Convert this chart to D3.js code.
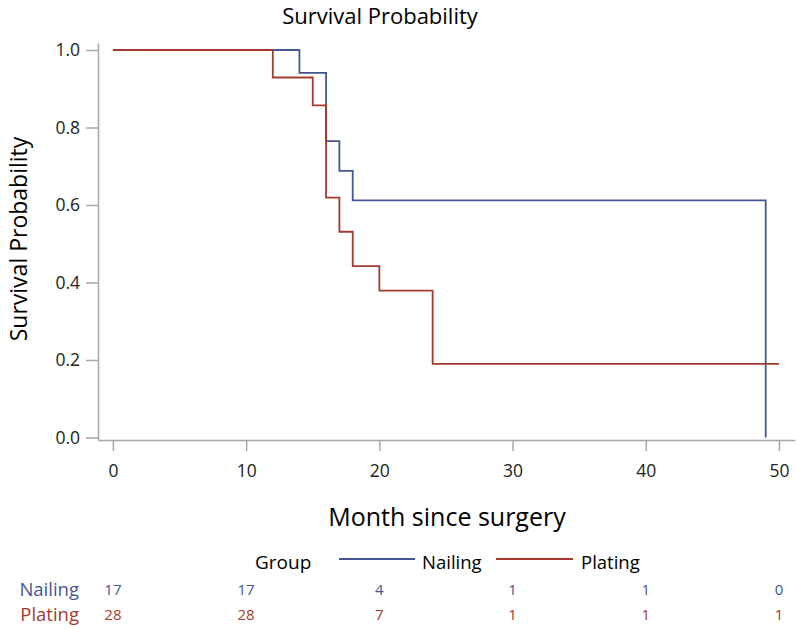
<!DOCTYPE html>
<html><head><meta charset="utf-8">
<script src="https://cdn.jsdelivr.net/npm/d3@7"></script>
<style>body{margin:0;background:#fff}svg{display:block;font-family:"Open Sans",sans-serif}</style>
</head><body><svg id="c" width="796" height="629"></svg>
<script>
const groups = ["Nailing", "Plating"];
const colors = ["#445694", "#A23A2E"];
const nailingTime = [0, 14, 16, 17, 18, 49];
const nailingSurv = [1.0, 0.941, 0.765, 0.688, 0.612, 0.0];
const nailingEnd = 49;
const platingTime = [0, 12, 15, 16, 17, 18, 20, 24];
const platingSurv = [1.0, 0.929, 0.857, 0.619, 0.531, 0.442, 0.379, 0.190];
const platingEnd = 50;
const xTicks = [0, 10, 20, 30, 40, 50];
const yTicks = [0.0, 0.2, 0.4, 0.6, 0.8, 1.0];
const riskTimes = [0, 10, 20, 30, 40, 50];
const nailingRisk = [17, 17, 4, 1, 1, 0];
const platingRisk = [28, 28, 7, 1, 1, 1];

const svg = d3.select("#c");
const axisColor = "#a3a9ad";
const x = d3.scaleLinear().domain([-1.12, 51.2]).range([98, 795]);
const y = d3.scaleLinear().domain([-0.0065, 1.0181]).range([440, 43]);

// axes
const xAxis = svg.append("g").attr("transform", "translate(0,440)")
  .call(d3.axisBottom(x).tickValues(xTicks).tickFormat(d3.format("d")).tickSizeInner(11).tickSizeOuter(0).tickPadding(14));
const yAxis = svg.append("g").attr("transform", "translate(98,0)")
  .call(d3.axisLeft(y).tickValues(yTicks).tickFormat(d3.format(".1f")).tickSizeInner(12).tickSizeOuter(0).tickPadding(6));
[xAxis, yAxis].forEach(a => {
  a.selectAll("path, line").attr("stroke", axisColor).attr("stroke-width", 1.5);
  a.selectAll("text").attr("fill", "#222").style("font-size", "17.5px").style("font-family", "'Open Sans',sans-serif");
});

// curves (plating drawn on top, as in the reference)
const series = [
  {t: nailingTime, s: nailingSurv, end: nailingEnd},
  {t: platingTime, s: platingSurv, end: platingEnd}
];
const line = d3.line().x(d => x(d[0])).y(d => y(d[1])).curve(d3.curveStepAfter);
[0, 1].forEach(i => {
  const sr = series[i];
  const pts = sr.t.map((t, k) => [t, sr.s[k]]);
  pts.push([sr.end, sr.s[sr.s.length - 1]]);
  svg.append("path").datum(pts).attr("d", line)
    .attr("fill", "none").attr("stroke", colors[i]).attr("stroke-width", 1.8);
});

// titles
svg.append("text").attr("x", 380).attr("y", 24).attr("text-anchor", "middle")
  .style("font-size", "22px").attr("fill", "#000").text("Survival Probability");
svg.append("text").attr("transform", "translate(27,239) rotate(-90)").attr("text-anchor", "middle")
  .style("font-size", "23px").attr("fill", "#000").text("Survival Probability");
svg.append("text").attr("x", 447).attr("y", 526).attr("text-anchor", "middle")
  .style("font-size", "25px").attr("fill", "#000").text("Month since surgery");

// legend
const lg = svg.append("g");
lg.append("text").attr("x", 255).attr("y", 569).style("font-size", "19px").attr("fill", "#000").text("Group");
const legX = [[339, 415, 422], [496, 573, 581]];
groups.forEach((g, i) => {
  lg.append("line").attr("x1", legX[i][0]).attr("x2", legX[i][1]).attr("y1", 559).attr("y2", 559)
    .attr("stroke", colors[i]).attr("stroke-width", 1.8);
  lg.append("text").attr("x", legX[i][2]).attr("y", 569).style("font-size", "18.5px").attr("fill", "#000").text(g);
});

// at-risk table
const risks = [nailingRisk, platingRisk];
const rowY = [596, 621];
groups.forEach((g, i) => {
  svg.append("text").attr("x", 79).attr("y", rowY[i]).attr("text-anchor", "end")
    .style("font-size", "18.5px").attr("fill", colors[i]).text(g);
  svg.append("g").selectAll("text").data(riskTimes).join("text")
    .attr("x", d => x(d)).attr("y", rowY[i] - 1).attr("text-anchor", "middle")
    .style("font-size", "15px").attr("fill", colors[i]).text((d, k) => risks[i][k]);
});
</script></body></html>
